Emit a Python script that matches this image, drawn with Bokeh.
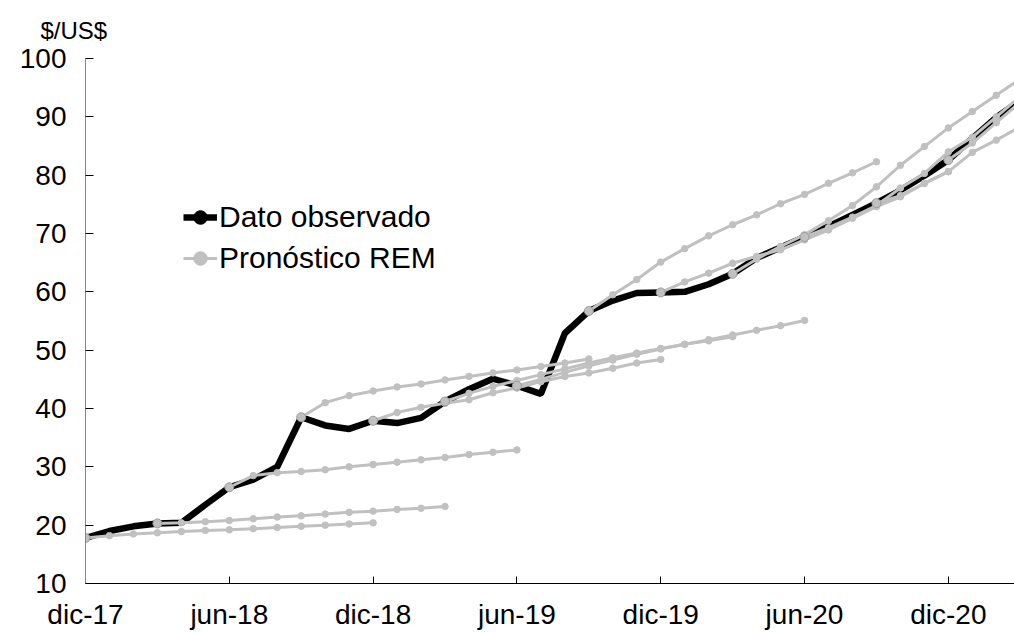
from bokeh.plotting import figure
from bokeh.models import Legend, LegendItem, FixedTicker, Range1d
from bokeh.embed import file_html
from bokeh.resources import INLINE

# x = months since dic-17
tick_meses = [0, 6, 12, 18, 24, 30, 36]
tick_labels = ["dic-17", "jun-18", "dic-18", "jun-19", "dic-19", "jun-20", "dic-20"]

# Observed exchange rate ($/US$), monthly from dic-17
observado = [17.8, 19.0, 19.8, 20.3, 20.4, 23.5, 26.5, 27.8, 30.0, 38.5,
             37.1, 36.5, 37.9, 37.5, 38.4, 41.2, 43.3, 45.1, 43.9, 42.5,
             52.9, 56.7, 58.5, 59.8, 59.9, 60.0, 61.3, 63.1, 65.8, 67.6,
             69.4, 71.2, 73.2, 75.2, 77.4, 79.9, 82.6, 86.3, 89.9, 92.8]

# REM forecasts (each starts at an observed month)
rem_dic17 = [17.8, 18.2, 18.5, 18.7, 18.9, 19.1, 19.2, 19.4, 19.6, 19.8, 20.0, 20.2, 20.4]
rem_mar18 = [20.3, 20.4, 20.6, 20.8, 21.1, 21.4, 21.6, 21.9, 22.2, 22.4, 22.7, 22.9, 23.2]
rem_jun18 = [26.5, 28.5, 29.0, 29.2, 29.5, 30.0, 30.4, 30.8, 31.2, 31.6, 32.1, 32.5, 32.9]
rem_sep18 = [38.5, 41.0, 42.2, 43.0, 43.7, 44.2, 44.9, 45.5, 46.1, 46.6, 47.2, 47.8, 48.5]
rem_dic18 = [37.9, 39.3, 40.2, 40.9, 41.5, 42.7, 43.5, 44.6, 45.5, 46.1, 46.9, 47.8, 48.4]
rem_mar19 = [41.2, 42.6, 43.8, 44.8, 45.8, 46.8, 47.8, 48.7, 49.5, 50.3, 51.0, 51.6, 52.3]
rem_jun19 = [43.9, 45.0, 46.2, 47.3, 48.3, 49.3, 50.2, 51.0, 51.8, 52.6, 53.4, 54.2, 55.1]
rem_sep19 = [56.7, 59.5, 62.1, 65.1, 67.4, 69.6, 71.5, 73.2, 75.1, 76.7, 78.6, 80.4, 82.3]
rem_dic19 = [59.9, 61.7, 63.2, 64.9, 66.1, 67.2, 68.9, 70.6, 72.6, 74.6, 76.3, 78.6, 80.6]
rem_mar20 = [63.1, 65.6, 67.8, 69.8, 72.2, 74.8, 78.0, 81.7, 84.9, 88.1, 90.9, 93.7, 96.5]
rem_jun20 = [69.4, 71.0, 72.8, 74.8, 77.8, 80.3, 84.0, 86.5, 90.0, 93.5]
rem_sep20 = [75.2, 76.5, 78.6, 80.6, 83.9, 86.0, 88.3]
rem_dic20 = [82.6, 85.5, 89.0, 92.5]

inicio_mes = [0, 3, 6, 9, 12, 15, 18, 21, 24, 27, 30, 33, 36]
pronosticos = [rem_dic17, rem_mar18, rem_jun18, rem_sep18, rem_dic18, rem_mar19,
               rem_jun19, rem_sep19, rem_dic19, rem_mar20, rem_jun20, rem_sep20, rem_dic20]

FONT = "Liberation Sans"
GRAY = "#C0C0C0"

p = figure(width=1014, height=632, x_range=Range1d(0, 38.76), y_range=Range1d(10, 100),
           output_backend="svg", toolbar_location=None,
           min_border_left=85, min_border_right=0, min_border_top=58, min_border_bottom=48)
p.outline_line_color = None
p.xgrid.visible = False
p.ygrid.visible = False
p.background_fill_color = "white"
p.border_fill_color = "white"

# unit label as a left-aligned title above the frame
p.title.text = "$/US$"
p.title.align = "left"
p.title.vertical_align = "top"
p.title.offset = -45
p.title.standoff = 25
p.title.text_font = FONT
p.title.text_font_size = "24px"
p.title.text_font_style = "normal"
p.title.text_color = "black"

# axes
p.xaxis.ticker = FixedTicker(ticks=tick_meses)
p.xaxis.major_label_overrides = {m: l for m, l in zip(tick_meses, tick_labels)}
p.xaxis.minor_tick_line_color = None
p.xaxis.major_tick_in = 7
p.xaxis.major_tick_out = 0
p.xaxis.axis_line_color = "black"
p.xaxis.major_tick_line_color = "black"
p.xaxis.major_label_standoff = 15
p.xaxis.major_label_text_font = FONT
p.xaxis.major_label_text_font_size = "28px"
p.xaxis.major_label_text_color = "black"

p.yaxis.ticker = FixedTicker(ticks=list(range(10, 101, 10)))
p.yaxis.minor_tick_line_color = None
p.yaxis.major_tick_in = 8
p.yaxis.major_tick_out = 0
p.yaxis.axis_line_color = "#868686"
p.yaxis.major_tick_line_color = "black"
p.yaxis.major_label_standoff = 19
p.yaxis.major_label_text_font = FONT
p.yaxis.major_label_text_font_size = "28px"
p.yaxis.major_label_text_color = "black"

# observed
xo = list(range(len(observado)))
obs_line = p.line(xo, observado, line_color="black", line_width=6.5)
obs_pts = p.scatter(xo, observado, size=4, color="black")

# forecasts
rem_line = rem_pts = None
for start, vals in zip(inicio_mes, pronosticos):
    xs = list(range(start, start + len(vals)))
    lr = p.line(xs, vals, line_color=GRAY, line_width=3)
    sr = p.scatter(xs[1:], vals[1:], size=6.5, color=GRAY)
    p.scatter(xs[:1], vals[:1], size=9, fill_color=GRAY, line_color="#9a9a9a", line_width=1)
    if rem_line is None:
        rem_line, rem_pts = lr, sr

legend = Legend(items=[LegendItem(label="Dato observado", renderers=[obs_line, obs_pts]),
                       LegendItem(label="Pronóstico REM", renderers=[rem_line, rem_pts])],
                location=(98, 307), orientation="vertical")
legend.label_text_font = FONT
legend.label_text_font_size = "30px"
legend.label_text_color = "black"
legend.glyph_width = 34
legend.glyph_height = 36
legend.label_height = 36
legend.label_standoff = 2
legend.spacing = 5
legend.padding = 0
legend.margin = 0
legend.border_line_color = None
legend.background_fill_alpha = 0
p.add_layout(legend, "center")

open("out.html", "w").write(file_html(p, INLINE))
